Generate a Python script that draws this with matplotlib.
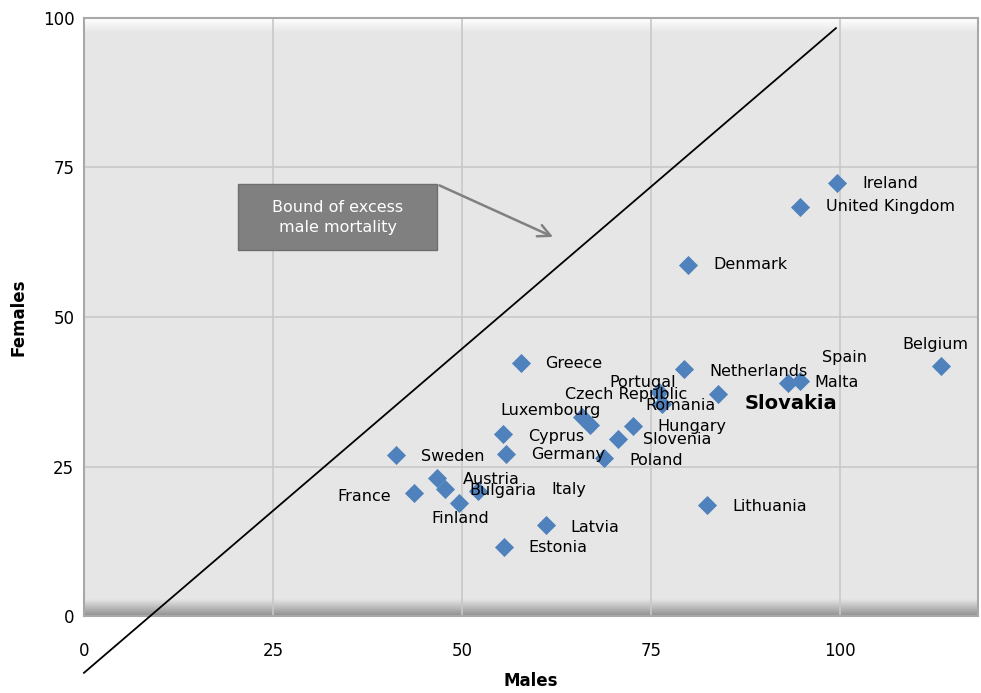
import matplotlib
matplotlib.use("Agg")
import matplotlib.pyplot as plt
import numpy as np
from matplotlib.colors import LinearSegmentedColormap
from matplotlib.patches import Rectangle

countries = [
    "Ireland", "United Kingdom", "Denmark", "Belgium", "Greece", "Netherlands",
    "Spain", "Malta", "Slovakia", "Portugal", "Romania", "Luxembourg",
    "Czech Republic", "Hungary", "Slovenia", "Cyprus", "Germany", "Poland",
    "Sweden", "Austria", "Italy", "Bulgaria", "France", "Finland",
    "Lithuania", "Latvia", "Estonia",
]
males = [
    99.7, 94.8, 79.9, 113.4, 57.8, 79.4,
    93.1, 94.8, 83.9, 76.1, 76.5, 65.9,
    66.9, 72.6, 70.6, 55.4, 55.8, 68.8,
    41.3, 46.7, 47.8, 52.1, 43.7, 49.6,
    82.5, 61.2, 55.6,
]
females = [
    72.4, 68.4, 58.7, 41.8, 42.3, 41.3,
    39.0, 39.3, 37.1, 37.5, 35.5, 33.3,
    31.9, 31.8, 29.6, 30.4, 27.1, 26.4,
    26.9, 23.1, 21.2, 20.9, 20.6, 18.9,
    18.6, 15.2, 11.5,
]

# hand-drawn bound line (start / end in data units)
bound_x = [0, 99.5]
bound_y = [-9.5, 98.3]

# label placement: offset in pixels (dx, dy with +dy upwards) and horizontal alignment
label_pos = {
    "Ireland": (25, 0, "left"),
    "United Kingdom": (26, 0, "left"),
    "Denmark": (26, 0, "left"),
    "Belgium": (-6, 22, "center"),
    "Greece": (24, 0, "left"),
    "Netherlands": (25, -2, "left"),
    "Spain": (57, 25, "center"),
    "Malta": (14, -2, "left"),
    "Slovakia": (27, -9, "left"),
    "Portugal": (-16, 9, "center"),
    "Romania": (-17, -2, "left"),
    "Luxembourg": (-31, 6, "center"),
    "Czech Republic": (37, 31, "center"),
    "Hungary": (25, -1, "left"),
    "Slovenia": (25, -1, "left"),
    "Cyprus": (25, -2, "left"),
    "Germany": (25, -1, "left"),
    "Poland": (25, -2, "left"),
    "Sweden": (25, -1, "left"),
    "Austria": (26, -2, "left"),
    "Italy": (106, 0, "left"),
    "Bulgaria": (-8, 1, "left"),
    "France": (-23, -4, "right"),
    "Finland": (1, -16, "center"),
    "Lithuania": (25, -2, "left"),
    "Latvia": (24, -2, "left"),
    "Estonia": (24, 0, "left"),
}

plt.rcParams["font.family"] = ["DejaVu Sans"]

fig = plt.figure(figsize=(9.81, 6.93), dpi=100)
W, H = 981, 693
ax = fig.add_axes([84 / W, (H - 616) / H, (978 - 84) / W, (616 - 18) / H])

ax.set_xlim(0, 118.3)
ax.set_ylim(0, 100)
ax.set_facecolor("#e6e6e6")
ax.set_xticks([0, 25, 50, 75, 100])
ax.set_yticks([0, 25, 50, 75, 100])
ax.grid(True, color="#c8c8c8", linewidth=1.2)
ax.set_axisbelow(True)
ax.tick_params(length=0, labelsize=12)
ax.tick_params(axis="x", pad=19)
ax.tick_params(axis="y", pad=7)
for side, spine in ax.spines.items():
    spine.set_color("#a8a8a8")
    spine.set_linewidth(1.5)

# bevel shading along the bottom and top edges
bevel = LinearSegmentedColormap.from_list("bevel", ["#8f8f8f", "#e6e6e6"])
grad = np.linspace(0, 1, 64).reshape(-1, 1)
ax.imshow(grad, cmap=bevel, aspect="auto", origin="lower",
          extent=[0, 1, 0, 0.028], transform=ax.transAxes, zorder=0.5)
top = LinearSegmentedColormap.from_list("top", ["#e6e6e6", "#ffffff"])
ax.imshow(grad, cmap=top, aspect="auto", origin="lower",
          extent=[0, 1, 0.975, 1], transform=ax.transAxes, zorder=0.5)

ax.set_xlabel("Males", fontsize=12, fontweight="bold", labelpad=8)
ax.set_ylabel("Females", fontsize=12, fontweight="bold", labelpad=11)

ax.plot(bound_x, bound_y, color="black", linewidth=1.3, clip_on=False, zorder=3)

ax.scatter(males, females, marker="D", s=95, color="#4f81bd", zorder=4,
           linewidths=0)

for name, mx, fy in zip(countries, males, females):
    dx, dy, ha = label_pos[name]
    bold = name == "Slovakia"
    ax.annotate(name, (mx, fy), xytext=(dx * 0.72, dy * 0.72),
                textcoords="offset points", ha=ha, va="center",
                fontsize=14 if bold else 11.5,
                fontweight="bold" if bold else "normal",
                color="black", zorder=5)

# annotation box with arrow
ax.add_patch(Rectangle((20.4, 61.2), 26.3, 11.0, facecolor="#808080",
                       edgecolor="#6e6e6e", linewidth=1, zorder=5))
ax.text(33.55, 66.7, "Bound of excess\nmale mortality", color="white",
        fontsize=11.5, ha="center", va="center", linespacing=1.4, zorder=6)
ax.annotate("", xy=(62.4, 63.2), xytext=(46.7, 72.2),
            arrowprops=dict(arrowstyle="->", color="#808080", lw=1.8,
                            mutation_scale=22), zorder=6)

fig.savefig("out.png", dpi=100)
